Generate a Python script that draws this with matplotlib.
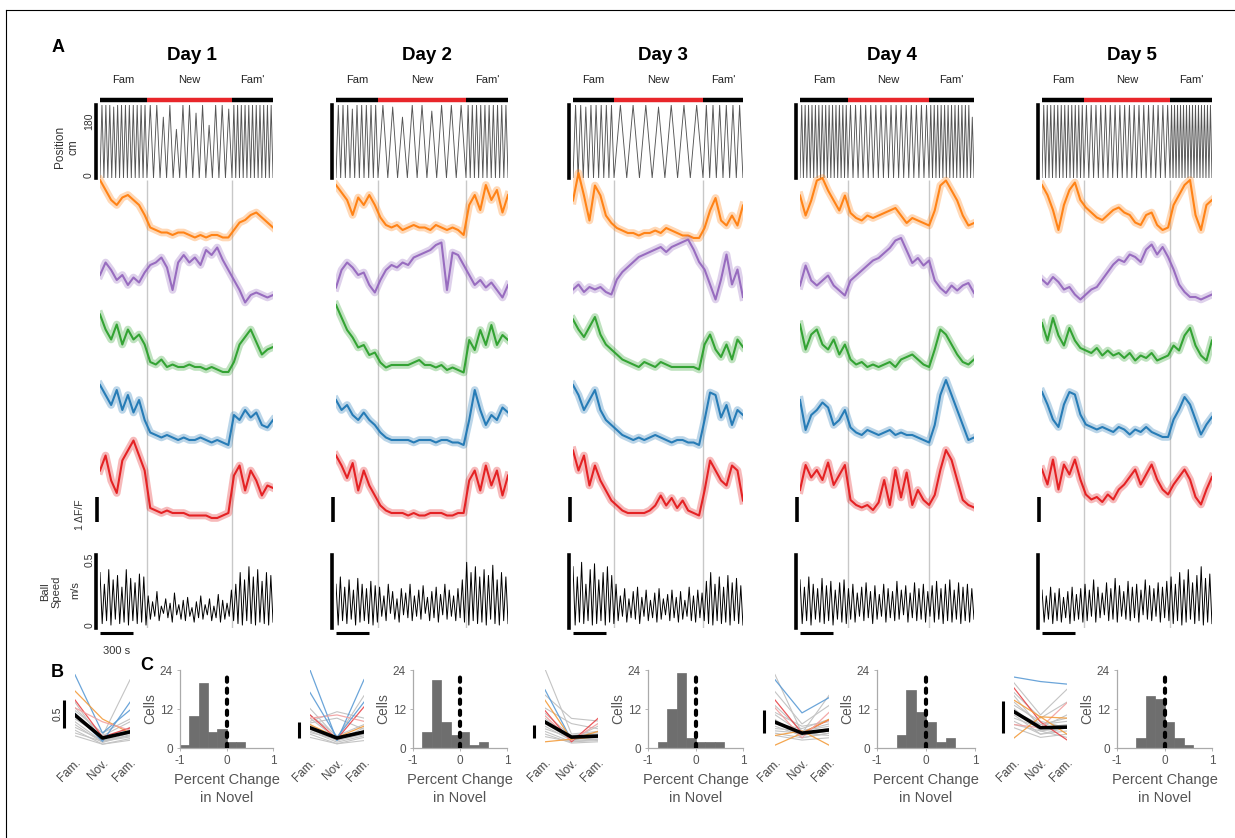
import numpy as np
import matplotlib
matplotlib.use('Agg')
import matplotlib.pyplot as plt
from matplotlib.lines import Line2D

plt.rcParams['font.family'] = ['Liberation Sans', 'DejaVu Sans']
plt.rcParams['axes.unicode_minus'] = False

W, H = 1235, 838

days = ['Day 1', 'Day 2', 'Day 3', 'Day 4', 'Day 5']
phase_names = ['Fam', 'New', "Fam'"]

# session length and novel-room boundaries, seconds
session_len = [1573, 1564, 1545, 1582, 1545]
novel_start = [427, 382, 373, 436, 382]
novel_end = [1200, 1182, 1182, 1173, 1164]

# track position: peak of each run (cm), per phase
pos_fam = [
    [180, 180, 180, 175, 180, 180, 180, 180, 180, 180, 180, 180],
    [180, 180, 180, 170, 180, 180, 180, 180, 180],
    [180, 180, 175, 180, 180, 180, 180, 180],
    [180, 180, 180, 180, 180, 180, 180, 180, 180, 180, 180, 180, 180, 180],
    [180, 180, 180, 180, 180, 180, 180, 180, 180, 180, 180, 180],
]
pos_new = [
    [180, 180, 150, 180, 120, 180, 180, 160, 180, 130, 180, 180, 170],
    [180, 175, 150, 180, 180, 165, 180, 180, 180],
    [180, 180, 180, 175, 180, 180, 180],
    [180, 180, 180, 180, 180, 180, 180, 180, 180, 180, 180, 180, 180, 180, 180, 180],
    [180, 180, 180, 180, 180, 180, 180, 180, 180, 180, 180, 180, 180, 180, 180, 180, 180, 180],
]
pos_fam2 = [
    [180, 180, 180, 180, 180, 180, 180, 180, 180, 180, 180],
    [180, 180, 180, 180, 180, 180, 180, 180, 180, 180],
    [180, 180, 180, 180, 180, 180],
    [180, 180, 180, 180, 180, 180, 180, 180, 180, 180, 180, 180, 150],
    [180, 180, 180, 180, 180, 180, 180, 180, 180, 180, 180, 180, 180, 180],
]

# dF/F of the five example cells, 32 samples over the session
dff_orange = [
    [2.2, 1.8, 1.4, 1.2, 1.5, 1.6, 1.4, 1.2, 0.8, 0.3, 0.2, 0.1, 0.1, 0.0, 0.1, 0.1, 0.0, -0.1, 0.0, -0.1, 0.0, 0.0, -0.1, -0.1, 0.2, 0.5, 0.6, 0.8, 0.9, 0.7, 0.5, 0.3],
    [2.0, 1.7, 1.4, 0.8, 1.5, 1.2, 1.6, 1.2, 0.7, 0.4, 0.3, 0.4, 0.2, 0.3, 0.4, 0.3, 0.3, 0.2, 0.4, 0.3, 0.2, 0.3, 0.2, 0.0, 1.2, 1.6, 1.0, 2.0, 1.4, 1.8, 0.9, 1.6],
    [1.5, 2.6, 1.7, 0.7, 2.1, 1.7, 0.9, 0.6, 0.4, 0.3, 0.2, 0.2, 0.1, 0.2, 0.2, 0.3, 0.2, 0.4, 0.3, 0.2, 0.1, 0.1, 0.0, 0.0, 0.4, 1.1, 1.6, 0.7, 0.5, 0.9, 0.5, 1.3],
    [1.3, 0.5, 1.1, 1.9, 2.0, 1.5, 1.1, 0.7, 1.3, 0.6, 0.4, 0.3, 0.5, 0.4, 0.5, 0.6, 0.7, 0.8, 0.5, 0.2, 0.4, 0.3, 0.2, 0.1, 0.7, 1.7, 1.9, 1.5, 1.1, 0.5, 0.1, 0.2],
    [2.0, 1.6, 1.0, 0.2, 1.2, 1.8, 2.1, 1.4, 1.1, 0.9, 0.7, 0.6, 0.8, 1.0, 1.1, 0.9, 0.8, 0.5, 0.4, 0.8, 0.9, 0.4, 0.2, 0.3, 1.2, 1.6, 2.0, 2.2, 0.8, 0.2, 1.2, 1.4],
]
dff_purple = [
    [1.0, 1.5, 1.2, 0.8, 1.0, 0.6, 0.9, 0.7, 1.1, 1.4, 1.5, 1.7, 1.3, 0.4, 1.5, 1.8, 1.5, 1.7, 1.4, 2.0, 1.8, 2.1, 1.6, 1.2, 0.8, 0.4, -0.1, 0.2, 0.3, 0.2, 0.1, 0.2],
    [0.5, 1.2, 1.5, 1.3, 1.0, 1.1, 0.6, 0.3, 0.8, 1.2, 1.4, 1.3, 1.5, 1.4, 1.7, 1.8, 1.9, 2.0, 2.2, 2.3, 0.4, 1.9, 1.8, 1.4, 1.0, 0.6, 0.8, 0.5, 0.7, 0.4, 0.1, 0.6],
    [0.5, 0.7, 0.4, 0.6, 0.5, 0.6, 0.4, 0.3, 0.9, 1.2, 1.4, 1.6, 1.8, 1.9, 2.0, 2.1, 2.2, 2.0, 2.2, 2.3, 2.4, 2.5, 2.1, 1.6, 1.3, 0.7, 0.1, 0.9, 1.9, 0.7, 1.3, 0.2],
    [0.5, 1.3, 0.7, 0.5, 0.7, 0.9, 0.5, 0.3, 0.1, 0.7, 0.9, 1.1, 1.3, 1.5, 1.6, 1.8, 2.0, 2.3, 2.4, 1.9, 1.4, 1.6, 1.3, 1.5, 0.7, 0.4, 0.2, 0.5, 0.3, 0.5, 0.6, 0.2],
    [0.9, 0.7, 1.0, 0.8, 0.5, 0.6, 0.3, 0.1, 0.3, 0.5, 0.6, 0.9, 1.2, 1.5, 1.7, 1.6, 1.9, 1.8, 1.6, 2.1, 2.3, 1.9, 2.2, 1.8, 1.3, 0.7, 0.4, 0.2, 0.2, 0.1, 0.2, 0.3],
]
dff_green = [
    [2.3, 1.7, 1.3, 1.9, 1.1, 1.7, 1.3, 1.5, 1.1, 0.4, 0.3, 0.5, 0.2, 0.3, 0.2, 0.2, 0.3, 0.2, 0.2, 0.1, 0.2, 0.1, 0.0, 0.0, 0.4, 1.1, 1.4, 1.7, 1.2, 0.7, 0.9, 1.0],
    [2.8, 2.3, 1.8, 1.5, 1.1, 1.2, 0.8, 0.9, 0.5, 0.3, 0.4, 0.4, 0.4, 0.4, 0.5, 0.6, 0.4, 0.4, 0.3, 0.4, 0.2, 0.3, 0.2, 0.1, 1.4, 1.0, 1.8, 1.2, 2.0, 1.2, 1.6, 1.4],
    [2.1, 1.7, 1.4, 1.8, 2.2, 1.5, 1.1, 0.9, 0.7, 0.5, 0.4, 0.3, 0.2, 0.4, 0.3, 0.2, 0.4, 0.3, 0.2, 0.2, 0.2, 0.2, 0.2, 0.1, 1.1, 1.5, 0.9, 0.6, 1.1, 0.5, 1.3, 1.0],
    [1.9, 0.9, 1.5, 1.7, 1.1, 0.9, 1.3, 0.7, 1.1, 0.5, 0.3, 0.4, 0.2, 0.3, 0.2, 0.3, 0.4, 0.2, 0.5, 0.6, 0.7, 0.5, 0.3, 0.2, 0.9, 1.7, 1.5, 1.1, 0.7, 0.4, 0.3, 0.5],
    [1.8, 1.1, 2.0, 1.3, 0.9, 1.6, 1.1, 0.8, 0.7, 0.6, 0.8, 0.5, 0.7, 0.5, 0.6, 0.4, 0.6, 0.3, 0.5, 0.4, 0.6, 0.3, 0.4, 0.5, 0.9, 0.7, 1.3, 1.6, 0.9, 0.5, 0.3, 1.1],
]
dff_blue = [
    [2.4, 2.0, 1.6, 2.2, 1.4, 2.0, 1.3, 1.8, 1.0, 0.5, 0.4, 0.3, 0.4, 0.3, 0.2, 0.3, 0.2, 0.2, 0.3, 0.2, 0.1, 0.2, 0.1, 0.0, 1.2, 1.0, 1.4, 1.1, 1.3, 0.8, 0.7, 1.0],
    [1.8, 1.4, 1.6, 1.2, 1.0, 1.3, 1.0, 0.8, 0.5, 0.3, 0.2, 0.2, 0.2, 0.2, 0.1, 0.2, 0.2, 0.2, 0.1, 0.2, 0.2, 0.1, 0.1, 0.0, 1.0, 2.2, 1.4, 0.8, 1.2, 1.0, 1.5, 1.3],
    [2.4, 2.0, 1.4, 1.8, 2.2, 1.4, 1.0, 0.8, 0.6, 0.4, 0.3, 0.2, 0.3, 0.2, 0.3, 0.4, 0.3, 0.2, 0.1, 0.2, 0.2, 0.1, 0.1, 0.0, 1.0, 2.1, 2.0, 1.1, 1.6, 0.8, 1.4, 1.2],
    [1.8, 0.6, 1.2, 1.4, 1.7, 1.5, 0.8, 1.0, 1.4, 0.7, 0.5, 0.4, 0.6, 0.5, 0.4, 0.5, 0.6, 0.4, 0.5, 0.4, 0.4, 0.3, 0.2, 0.1, 0.8, 2.0, 2.6, 2.0, 1.4, 0.8, 0.2, 0.3],
    [2.0, 1.5, 0.9, 0.6, 1.5, 2.0, 1.9, 1.1, 0.7, 0.6, 0.5, 0.6, 0.5, 0.4, 0.6, 0.5, 0.3, 0.5, 0.4, 0.6, 0.4, 0.3, 0.2, 0.2, 0.9, 1.3, 1.8, 1.5, 0.9, 0.3, 0.7, 1.0],
]
dff_red = [
    [1.9, 2.5, 1.5, 1.0, 2.3, 2.7, 3.1, 2.5, 1.9, 0.4, 0.3, 0.2, 0.3, 0.2, 0.2, 0.2, 0.1, 0.1, 0.1, 0.1, 0.0, 0.0, 0.1, 0.2, 1.7, 2.1, 1.1, 1.9, 1.5, 0.9, 1.3, 1.2],
    [2.5, 2.1, 1.6, 2.2, 1.1, 1.9, 1.3, 0.9, 0.5, 0.3, 0.2, 0.2, 0.2, 0.1, 0.2, 0.1, 0.1, 0.2, 0.2, 0.2, 0.1, 0.1, 0.2, 0.2, 1.5, 1.9, 1.1, 2.1, 1.3, 1.9, 0.9, 1.7],
    [2.7, 1.9, 2.5, 1.3, 2.1, 1.5, 1.1, 0.7, 0.5, 0.3, 0.2, 0.2, 0.2, 0.2, 0.3, 0.5, 0.9, 0.5, 0.8, 0.4, 0.7, 0.3, 0.2, 0.1, 1.1, 2.3, 1.9, 1.5, 1.3, 2.1, 1.9, 0.7],
    [1.0, 2.0, 1.5, 1.8, 1.4, 2.1, 1.2, 1.6, 2.0, 0.6, 0.4, 0.3, 0.4, 0.2, 0.5, 1.4, 0.4, 1.8, 0.7, 1.7, 0.4, 1.0, 0.6, 0.4, 0.8, 1.8, 2.6, 2.2, 1.4, 0.6, 0.4, 0.3],
    [1.7, 1.1, 2.1, 0.9, 1.9, 1.5, 2.1, 1.3, 0.7, 0.5, 0.6, 0.4, 0.7, 0.5, 0.9, 1.1, 1.4, 1.7, 1.1, 1.5, 1.9, 1.3, 0.9, 0.7, 1.1, 1.4, 1.7, 1.3, 0.6, 0.3, 0.9, 1.4],
]

# ball speed (m/s): successive peaks and troughs of the trace
speed_hi = [
    [0.38, 0.30, 0.40, 0.33, 0.36, 0.28, 0.40, 0.34, 0.31, 0.37, 0.35,
     0.22, 0.18, 0.25, 0.15, 0.20, 0.17, 0.24, 0.16, 0.19, 0.21, 0.14, 0.18, 0.22, 0.16, 0.20, 0.15, 0.23, 0.19, 0.17, 0.26,
     0.30, 0.38, 0.33, 0.42, 0.35, 0.40, 0.32, 0.38, 0.36],
    [0.30, 0.35, 0.28, 0.33, 0.26, 0.34, 0.30, 0.27, 0.32, 0.29,
     0.28, 0.22, 0.30, 0.25, 0.20, 0.27, 0.24, 0.30, 0.22, 0.26, 0.29, 0.21, 0.25, 0.28, 0.23, 0.30, 0.26, 0.22, 0.27, 0.33,
     0.45, 0.38, 0.42, 0.35, 0.40, 0.36, 0.43, 0.33, 0.38, 0.35],
    [0.42, 0.35, 0.45, 0.30, 0.40, 0.44, 0.33, 0.38, 0.42, 0.36,
     0.30, 0.22, 0.27, 0.20, 0.25, 0.28, 0.21, 0.26, 0.19, 0.24, 0.27, 0.20, 0.23, 0.26, 0.21, 0.25, 0.19, 0.28, 0.22, 0.26, 0.24,
     0.32, 0.38, 0.30, 0.35, 0.28, 0.36, 0.31, 0.34, 0.29],
    [0.33, 0.28, 0.35, 0.30, 0.27, 0.34, 0.29, 0.32, 0.26, 0.31, 0.33,
     0.27, 0.30, 0.24, 0.28, 0.31, 0.25, 0.29, 0.23, 0.30, 0.27, 0.25, 0.32, 0.26, 0.29, 0.24, 0.31, 0.27, 0.30, 0.25,
     0.29, 0.32, 0.27, 0.30, 0.33, 0.26, 0.31, 0.28, 0.30, 0.27],
    [0.26, 0.22, 0.28, 0.24, 0.27, 0.21, 0.25, 0.28, 0.23, 0.27,
     0.30, 0.26, 0.33, 0.28, 0.24, 0.31, 0.27, 0.34, 0.29, 0.25, 0.32, 0.28, 0.30, 0.26, 0.33, 0.29, 0.27, 0.31, 0.28, 0.32,
     0.35, 0.30, 0.38, 0.33, 0.40, 0.31, 0.36, 0.42, 0.34, 0.37],
]
speed_lo = [
    [0.03, 0.05, 0.02, 0.06, 0.03, 0.04, 0.02, 0.05, 0.03, 0.04, 0.02,
     0.06, 0.08, 0.05, 0.10, 0.07, 0.04, 0.09, 0.06, 0.05, 0.08, 0.04, 0.07, 0.06, 0.09, 0.05, 0.07, 0.04, 0.06, 0.08, 0.05,
     0.03, 0.02, 0.05, 0.03, 0.02, 0.04, 0.03, 0.02, 0.04],
    [0.02, 0.05, 0.03, 0.06, 0.02, 0.04, 0.05, 0.03, 0.02, 0.04,
     0.08, 0.05, 0.10, 0.06, 0.04, 0.09, 0.07, 0.05, 0.08, 0.06, 0.10, 0.05, 0.07, 0.04, 0.09, 0.06, 0.08, 0.05, 0.07, 0.04,
     0.02, 0.05, 0.03, 0.04, 0.02, 0.06, 0.03, 0.02, 0.05, 0.03],
    [0.02, 0.04, 0.03, 0.05, 0.02, 0.03, 0.05, 0.02, 0.04, 0.03,
     0.05, 0.08, 0.04, 0.07, 0.06, 0.03, 0.08, 0.05, 0.07, 0.04, 0.06, 0.09, 0.05, 0.07, 0.04, 0.06, 0.08, 0.05, 0.04, 0.07, 0.05,
     0.03, 0.02, 0.05, 0.03, 0.04, 0.02, 0.05, 0.03, 0.02],
    [0.03, 0.05, 0.02, 0.06, 0.04, 0.03, 0.05, 0.02, 0.06, 0.04, 0.03,
     0.06, 0.04, 0.08, 0.05, 0.07, 0.03, 0.06, 0.08, 0.04, 0.07, 0.05, 0.06, 0.09, 0.04, 0.07, 0.05, 0.06, 0.04, 0.08,
     0.04, 0.06, 0.03, 0.05, 0.04, 0.06, 0.03, 0.05, 0.04, 0.06],
    [0.04, 0.06, 0.03, 0.05, 0.04, 0.07, 0.03, 0.05, 0.06, 0.04,
     0.05, 0.08, 0.04, 0.07, 0.09, 0.05, 0.06, 0.04, 0.08, 0.06, 0.05, 0.07, 0.04, 0.09, 0.06, 0.05, 0.08, 0.04, 0.07, 0.05,
     0.03, 0.05, 0.02, 0.04, 0.06, 0.03, 0.05, 0.02, 0.04, 0.03],
]

# panel B: mean dF/F per cell in Fam, Nov, Fam'
b_labels = ['Fam.', 'Nov.', 'Fam.']
b_mean = [[0.57, 0.16, 0.27], [0.60, 0.28, 0.47], [0.96, 0.38, 0.42], [0.54, 0.30, 0.37], [0.55, 0.30, 0.31]]
b_colored = [
    [('blue', [1.29, 0.25, 0.66]), ('orange', [1.0, 0.5, 0.25]), ('red', [0.84, 0.18, 0.34]),
     ('pink', [0.7, 0.45, 0.3]), ('blue', [0.6, 0.1, 0.8])],
    [('blue', [2.4, 0.2, 2.1]), ('red', [1.0, 0.25, 1.25]), ('orange', [0.7, 0.3, 0.65]),
     ('pink', [0.9, 1.0, 0.8]), ('blue', [1.7, 0.3, 1.4])],
    [('blue', [2.2, 0.27, 0.46]), ('orange', [1.8, 0.3, 0.4]), ('red', [1.4, 0.2, 1.1]),
     ('pink', [1.2, 0.25, 0.9]), ('orange', [0.2, 0.3, 0.6])],
    [('blue', [1.46, 0.74, 1.07]), ('red', [1.02, 0.3, 0.59]), ('orange', [0.04, 0.3, 0.6]),
     ('orange', [0.25, 0.35, 0.04]), ('pink', [0.85, 0.2, 0.75])],
    [('blue', [1.09, 1.02, 0.98]), ('red', [0.92, 0.39, 0.11]), ('pink', [0.35, 0.3, 0.69]),
     ('orange', [0.73, 0.47, 0.45]), ('orange', [0.14, 0.47, 0.2])],
]
b_gray = [
    [[0.5, 0.2, 1.2], [0.8, 0.1, 0.3], [0.6, 0.15, 0.35], [0.45, 0.1, 0.25], [0.35, 0.12, 0.2], [0.7, 0.2, 0.45],
     [0.3, 0.05, 0.15], [0.55, 0.18, 0.3], [0.4, 0.08, 0.22], [0.25, 0.1, 0.18], [0.65, 0.25, 0.5], [0.2, 0.05, 0.12]],
    [[1.2, 0.3, 1.6], [0.8, 1.1, 0.9], [0.9, 0.25, 0.5], [0.7, 0.2, 0.4], [0.5, 0.15, 0.35], [0.6, 0.3, 0.5],
     [0.4, 0.1, 0.3], [1.0, 0.35, 0.7], [0.3, 0.1, 0.2], [0.55, 0.2, 0.6], [0.75, 0.9, 0.55], [0.45, 0.25, 0.4]],
    [[3.0, 0.5, 0.6], [2.0, 1.1, 1.0], [1.5, 0.9, 0.7], [1.1, 0.3, 0.35], [0.8, 0.25, 0.3], [0.6, 0.2, 0.25],
     [1.3, 0.4, 0.5], [0.7, 0.35, 0.4], [0.9, 0.3, 0.8], [0.5, 0.15, 0.2], [1.0, 0.45, 0.55], [0.4, 0.2, 0.3]],
    [[1.57, 0.3, 1.12], [1.2, 0.5, 0.9], [0.9, 0.35, 0.5], [0.7, 0.3, 0.4], [0.6, 0.2, 0.3], [0.45, 0.25, 0.35],
     [0.5, 0.4, 0.6], [0.35, 0.3, 0.25], [0.3, 0.2, 0.3], [0.75, 0.45, 0.55], [0.4, 0.35, 0.45], [0.25, 0.15, 0.2]],
    [[1.0, 0.5, 0.9], [0.8, 0.3, 0.5], [0.7, 0.35, 0.4], [0.6, 0.25, 0.3], [0.5, 0.2, 0.25], [0.45, 0.3, 0.35],
     [0.65, 0.4, 0.3], [0.4, 0.2, 0.3], [0.3, 0.15, 0.2], [0.55, 0.35, 0.45], [0.85, 0.45, 0.7], [0.35, 0.25, 0.15]],
]

# panel C: histogram of percent change in novel
hist_edges = [-1.0, -0.8, -0.6, -0.4, -0.2, 0.0, 0.2, 0.4, 0.6, 0.8, 1.0]
hist_counts = [
    [1, 10, 20, 5, 6, 2, 2, 0, 0, 0],
    [0, 5, 21, 8, 4, 5, 1, 2, 0, 0],
    [0, 2, 12, 23, 3, 2, 2, 2, 0, 0],
    [0, 0, 4, 18, 11, 8, 2, 3, 0, 0],
    [0, 0, 3, 16, 15, 8, 3, 1, 0, 0],
]

# ---- layout (pixels) ----
PX_PER_S = 0.11
PX_PER_DFF = 25
col_left = [100, 336, 573, 800, 1042]
POS_TOP, POS_BOT = 105, 178
TR_TOP, TR_BOT = 160, 555
SP_TOP, SP_BOT = 555, 628
trace_base = [[235, 300, 372, 445, 518], [235, 300, 375, 445, 518], [238, 302, 372, 445, 518],
              [228, 298, 372, 445, 515], [235, 302, 368, 442, 512]]
b_left = [75, 310, 545, 775, 1014]
b_right = [130, 364, 598, 829, 1067]
b_ytop = [1.375, 2.4, 2.96, 1.67, 1.2]
b_bar_lo = [0.34, 0.28, 0.35, 0.30, 0.22]
h_left = [180, 413, 648, 877, 1117]
h_right = [273, 507, 743, 975, 1212]

trace_colors = ['#ff7f0e', '#9467bd', '#2ca02c', '#1f77b4', '#e41a1c']
b_colors = {'blue': '#5b9bd5', 'orange': '#f39c3c', 'red': '#e8464a', 'pink': '#f2a0a0'}
GRID_GRAY = '#c8c8c8'
TXT_GRAY = '#555555'

fig = plt.figure(figsize=(W / 100, H / 100), dpi=100)


def px_axes(l, t, r, b):
    return fig.add_axes([l / W, 1 - b / H, (r - l) / W, (b - t) / H])


def ftext(x, y, s, **kw):
    fig.text(x / W, 1 - y / H, s, **kw)


def bar_spine(ax):
    for s in ['top', 'right', 'bottom']:
        ax.spines[s].set_visible(False)
    ax.spines['left'].set_position(('outward', 3))
    ax.spines['left'].set_linewidth(2.6)
    ax.set_xticks([])
    ax.set_yticks([])


for d in range(5):
    T = session_len[d]
    b1, b2 = novel_start[d], novel_end[d]
    left = col_left[d]
    right = left + T * PX_PER_S

    # position
    ax_pos = px_axes(left, POS_TOP, right, POS_BOT)
    t_pos, y_pos = [0.0], [0.0]
    for (start, end), peaks in zip([(0, b1), (b1, b2), (b2, T)],
                                   [pos_fam[d], pos_new[d], pos_fam2[d]]):
        step = (end - start) / len(peaks)
        for k, p in enumerate(peaks):
            t_pos += [start + (k + 0.5) * step, start + (k + 1) * step]
            y_pos += [p, 0]
    ax_pos.plot(t_pos, y_pos, color='#555555', lw=0.65)
    ax_pos.set_xlim(0, T)
    ax_pos.set_ylim(0, 180)
    bar_spine(ax_pos)

    # phase bar and labels
    for (s0, s1), c, name in zip([(0, b1), (b1, b2), (b2, T)], ['k', '#e8262a', 'k'], phase_names):
        ax_pos.plot([s0, s1], [192, 192], color=c, lw=3.2, clip_on=False, solid_capstyle='butt')
        ax_pos.text((s0 + s1) / 2, 241, name, ha='center', va='center', fontsize=8, color='#222222')
    ax_pos.text(T / 2 + 5 / PX_PER_S, 303, days[d], ha='center', va='center',
                fontsize=13.5, fontweight='bold')

    # dF/F traces
    ax_tr = px_axes(left, TR_TOP, right, TR_BOT)
    ax_tr.patch.set_alpha(0)
    ax_tr.set_xlim(0, T)
    ax_tr.set_ylim(0, (TR_BOT - TR_TOP) / PX_PER_DFF)
    ax_tr.axis('off')
    ax_tr.vlines([b1, b2], 0, (TR_BOT - 180) / PX_PER_DFF, color=GRID_GRAY, lw=1, zorder=0)
    t32 = np.linspace(0, T, 32)
    for k, series in enumerate([dff_orange, dff_purple, dff_green, dff_blue, dff_red]):
        off = (TR_BOT - trace_base[d][k]) / PX_PER_DFF
        vals = np.array(series[d]) + off
        ax_tr.plot(t32, vals, color=trace_colors[k], lw=5.5, alpha=0.3, solid_joinstyle='round')
        ax_tr.plot(t32, vals, color=trace_colors[k], lw=1.5, alpha=0.95, solid_joinstyle='round')
    ax_tr.plot([-3 / PX_PER_S] * 2, [1.32, 2.32], color='k', lw=2.6, clip_on=False,
               solid_capstyle='butt')

    # ball speed
    ax_sp = px_axes(left, SP_TOP, right, SP_BOT)
    sp = np.ravel(np.column_stack([speed_hi[d], speed_lo[d]]))
    ax_sp.plot(np.linspace(0, T, len(sp)), sp, color='k', lw=0.7)
    ax_sp.axvline(b1, color=GRID_GRAY, lw=1, zorder=0)
    ax_sp.axvline(b2, color=GRID_GRAY, lw=1, zorder=0)
    ax_sp.set_xlim(0, T)
    ax_sp.set_ylim(0, 0.5)
    bar_spine(ax_sp)
    ax_sp.plot([0, 300], [-0.034, -0.034], color='k', lw=2.2, clip_on=False, solid_capstyle='butt')

    # panel B
    ax_b = px_axes(b_left[d], 670, b_right[d], 747)
    for vals in b_gray[d]:
        ax_b.plot([0, 1, 2], vals, color='#c4c4c4', lw=0.8)
    for cname, vals in b_colored[d]:
        ax_b.plot([0, 1, 2], vals, color=b_colors[cname], lw=0.9, alpha=0.9)
    ax_b.plot([0, 1, 2], b_mean[d], color='k', lw=2.6)
    ax_b.set_xlim(0, 2)
    ax_b.set_ylim(0, b_ytop[d])
    xb = -11 / ((b_right[d] - b_left[d]) / 2)
    ax_b.plot([xb, xb], [b_bar_lo[d], b_bar_lo[d] + 0.5], color='k', lw=2.2, clip_on=False,
              solid_capstyle='butt')
    for s in ax_b.spines.values():
        s.set_visible(False)
    ax_b.set_yticks([])
    ax_b.set_xticks([0, 1, 2])
    ax_b.set_xticklabels(b_labels, rotation=45, ha='right', va='top', rotation_mode='anchor',
                         fontsize=8.5, color='#444444')
    ax_b.tick_params(axis='x', length=0, pad=7)

    # panel C
    ax_h = px_axes(h_left[d], 670, h_right[d], 748)
    ax_h.bar(hist_edges[:-1], hist_counts[d], width=0.2, align='edge', color='#6e6e6e',
             edgecolor='#6e6e6e', lw=0.5)
    ax_h.plot([0, 0], [0, 23], color='k', lw=3, linestyle=':', dash_capstyle='round', zorder=3)
    ax_h.set_xlim(-1, 1)
    ax_h.set_ylim(0, 24)
    ax_h.set_xticks([-1, 0, 1])
    ax_h.set_yticks([0, 12, 24])
    for s in ['top', 'right']:
        ax_h.spines[s].set_visible(False)
    for s in ['left', 'bottom']:
        ax_h.spines[s].set_color('#aaaaaa')
        ax_h.spines[s].set_linewidth(0.9)
    ax_h.tick_params(length=2, width=0.6, color='#aaaaaa', labelsize=8.5, labelcolor=TXT_GRAY, pad=3)
    ax_h.set_ylabel('Cells', fontsize=10, color=TXT_GRAY, labelpad=2)
    ax_h.set_xlabel('Percent Change\nin Novel', fontsize=10.5, color=TXT_GRAY, labelpad=4,
                    linespacing=1.4)

# labels on the first column
ftext(67, 147, 'Position\ncm', rotation=90, ha='center', va='center', fontsize=8.5, color='#333333')
ftext(89, 121, '180', rotation=90, ha='center', va='center', fontsize=7.5, color='#333333')
ftext(89, 175, '0', rotation=90, ha='center', va='center', fontsize=7.5, color='#333333')
ftext(80, 515, '1 \u0394F/F', rotation=90, ha='center', va='center', fontsize=7.5, color='#333333')
ftext(51, 592, 'Ball\nSpeed', rotation=90, ha='center', va='center', fontsize=8, color='#333333')
ftext(75, 590, 'm/s', rotation=90, ha='center', va='center', fontsize=8, color='#333333')
ftext(90, 560, '0.5', rotation=90, ha='center', va='center', fontsize=7.5, color='#333333')
ftext(90, 625, '0', rotation=90, ha='center', va='center', fontsize=7.5, color='#333333')
ftext(117, 651, '300 s', ha='center', va='center', fontsize=8, color='#333333')
ftext(58, 714, '0.5', rotation=90, ha='center', va='center', fontsize=7.5, color='#333333')

ftext(58, 47, 'A', ha='center', va='center', fontsize=13, fontweight='bold')
ftext(57, 672, 'B', ha='center', va='center', fontsize=13, fontweight='bold')
ftext(147, 665, 'C', ha='center', va='center', fontsize=13, fontweight='bold')

# frame
fig.add_artist(Line2D([6 / W, 1], [1 - 10 / H] * 2, color='k', lw=0.8))
fig.add_artist(Line2D([6 / W] * 2, [0, 1 - 10 / H], color='k', lw=0.8))

fig.savefig('out.png', dpi=100)
